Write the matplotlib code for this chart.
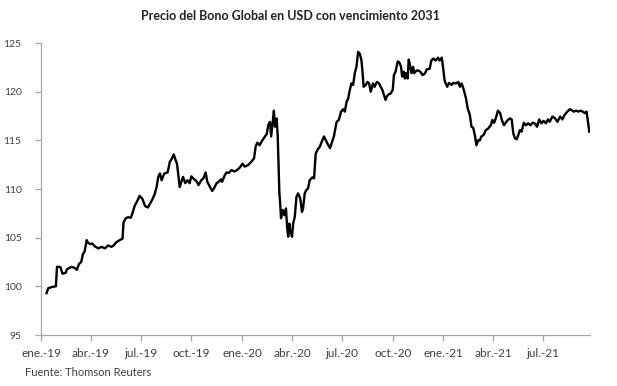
import pandas as pd
import matplotlib
matplotlib.use("Agg")
import matplotlib.pyplot as plt
import matplotlib.dates as mdates

# precio del bono (lectura aproximada del gráfico)
fechas = [
    "2019-01-11", "2019-01-14", "2019-01-22", "2019-01-28", "2019-01-30", "2019-02-05", "2019-02-09",
    "2019-02-15", "2019-02-17", "2019-02-25", "2019-03-03", "2019-03-07", "2019-03-11", "2019-03-15",
    "2019-03-18", "2019-03-21", "2019-03-25", "2019-03-27", "2019-03-31", "2019-04-04", "2019-04-09",
    "2019-04-15", "2019-04-21", "2019-04-27", "2019-05-03", "2019-05-09", "2019-05-13", "2019-05-17",
    "2019-05-24", "2019-05-29", "2019-05-31", "2019-06-04", "2019-06-08", "2019-06-13", "2019-06-16",
    "2019-06-20", "2019-06-26", "2019-06-29", "2019-07-04", "2019-07-09", "2019-07-14", "2019-07-18",
    "2019-07-22", "2019-07-26", "2019-07-30", "2019-08-02", "2019-08-05", "2019-08-08", "2019-08-13",
    "2019-08-19", "2019-08-23", "2019-08-26", "2019-08-30", "2019-09-02", "2019-09-05", "2019-09-07",
    "2019-09-10", "2019-09-13", "2019-09-16", "2019-09-20", "2019-09-24", "2019-09-28", "2019-10-01",
    "2019-10-06", "2019-10-10", "2019-10-14", "2019-10-19", "2019-10-23", "2019-10-27", "2019-10-30",
    "2019-11-04", "2019-11-08", "2019-11-11", "2019-11-16", "2019-11-20", "2019-11-24", "2019-11-26",
    "2019-12-01", "2019-12-04", "2019-12-08", "2019-12-13", "2019-12-18", "2019-12-22", "2019-12-28",
    "2020-01-02", "2020-01-06", "2020-01-12", "2020-01-18", "2020-01-23", "2020-01-26", "2020-01-29",
    "2020-02-02", "2020-02-07", "2020-02-12", "2020-02-15", "2020-02-18", "2020-02-21", "2020-02-23",
    "2020-02-26", "2020-02-28", "2020-03-01", "2020-03-04", "2020-03-06", "2020-03-09", "2020-03-10",
    "2020-03-12", "2020-03-15", "2020-03-18", "2020-03-21", "2020-03-23", "2020-03-25", "2020-03-27",
    "2020-03-29", "2020-04-01", "2020-04-03", "2020-04-06", "2020-04-09", "2020-04-12", "2020-04-14",
    "2020-04-16", "2020-04-19", "2020-04-21", "2020-04-24", "2020-04-27", "2020-04-30", "2020-05-03",
    "2020-05-08", "2020-05-11", "2020-05-14", "2020-05-18", "2020-05-21", "2020-05-25", "2020-05-29",
    "2020-06-01", "2020-06-05", "2020-06-09", "2020-06-12", "2020-06-16", "2020-06-21", "2020-06-25",
    "2020-06-29", "2020-07-03", "2020-07-06", "2020-07-09", "2020-07-12", "2020-07-15", "2020-07-18",
    "2020-07-21", "2020-07-24", "2020-07-27", "2020-07-30", "2020-08-02", "2020-08-05", "2020-08-07",
    "2020-08-09", "2020-08-13", "2020-08-16", "2020-08-19", "2020-08-22", "2020-08-26", "2020-08-29",
    "2020-09-02", "2020-09-06", "2020-09-09", "2020-09-12", "2020-09-15", "2020-09-18", "2020-09-20",
    "2020-09-24", "2020-09-27", "2020-10-01", "2020-10-03", "2020-10-06", "2020-10-10", "2020-10-13",
    "2020-10-16", "2020-10-18", "2020-10-21", "2020-10-23", "2020-10-25", "2020-10-28", "2020-10-30",
    "2020-11-02", "2020-11-04", "2020-11-07", "2020-11-09", "2020-11-11", "2020-11-15", "2020-11-19",
    "2020-11-22", "2020-11-24", "2020-11-28", "2020-12-02", "2020-12-07", "2020-12-10", "2020-12-14",
    "2020-12-18", "2020-12-22", "2020-12-25", "2020-12-29", "2021-01-01", "2021-01-03", "2021-01-05",
    "2021-01-08", "2021-01-11", "2021-01-16", "2021-01-19", "2021-01-24", "2021-01-28", "2021-01-31",
    "2021-02-03", "2021-02-07", "2021-02-11", "2021-02-14", "2021-02-18", "2021-02-21", "2021-02-24",
    "2021-02-27", "2021-03-02", "2021-03-05", "2021-03-08", "2021-03-11", "2021-03-15", "2021-03-19",
    "2021-03-23", "2021-03-28", "2021-03-31", "2021-04-03", "2021-04-06", "2021-04-10", "2021-04-14",
    "2021-04-17", "2021-04-21", "2021-04-24", "2021-04-28", "2021-05-02", "2021-05-05", "2021-05-08",
    "2021-05-11", "2021-05-14", "2021-05-17", "2021-05-20", "2021-05-23", "2021-05-27", "2021-05-31",
    "2021-06-04", "2021-06-08", "2021-06-12", "2021-06-16", "2021-06-20", "2021-06-24", "2021-06-28",
    "2021-07-02", "2021-07-06", "2021-07-10", "2021-07-13", "2021-07-18", "2021-07-23", "2021-07-27",
    "2021-08-01", "2021-08-05", "2021-08-09", "2021-08-14", "2021-08-19", "2021-08-22", "2021-08-26",
    "2021-08-30", "2021-09-03", "2021-09-07", "2021-09-11", "2021-09-15", "2021-09-18", "2021-09-20",
    "2021-09-23",
]
precios = [
    99.3, 99.8, 99.95, 100.0, 102.0, 102.0, 101.3,
    101.4, 101.75, 102.0, 101.9, 101.7, 102.3, 102.5,
    103.3, 103.55, 104.75, 104.5, 104.35, 104.4, 104.1,
    103.9, 104.06, 103.9, 104.2, 104.06, 104.2, 104.5,
    104.75, 104.9, 106.6, 107.0, 107.1, 107.05, 107.5,
    108.25, 108.9, 109.3, 109.0, 108.25, 108.1, 108.5,
    108.9, 109.4, 110.2, 111.25, 111.6, 110.9, 111.6,
    111.7, 112.8, 113.05, 113.55, 113.05, 112.6, 111.6,
    110.2, 110.75, 111.25, 110.6, 110.9, 110.6, 111.3,
    111.0, 110.85, 110.4, 110.9, 111.1, 111.7, 110.75,
    110.2, 109.8, 110.05, 110.6, 110.75, 111.0, 110.75,
    111.45, 111.7, 111.65, 111.95, 111.8, 111.9, 112.2,
    112.6, 112.3, 112.45, 112.8, 113.15, 114.4, 114.75,
    114.5, 115.0, 115.4, 115.65, 116.6, 116.9, 115.4,
    116.9, 118.05, 116.4, 117.25, 115.4, 109.55, 108.9,
    107.0, 107.85, 107.3, 108.0, 106.1, 105.1, 106.45,
    105.6, 105.1, 106.45, 107.15, 109.2, 109.55, 109.3,
    109.0, 107.65, 108.0, 109.55, 109.9, 110.05, 110.9,
    111.2, 111.1, 113.65, 114.1, 114.3, 114.85, 115.4,
    115.05, 114.6, 114.2, 114.7, 115.4, 116.9, 117.1,
    117.95, 118.2, 117.95, 118.95, 119.3, 120.2, 120.85,
    120.7, 121.9, 122.55, 124.1, 123.9, 123.25, 122.05,
    120.5, 120.7, 121.0, 120.85, 120.0, 120.85, 120.5,
    121.0, 120.85, 120.5, 120.2, 119.65, 119.15, 119.5,
    119.75, 119.8, 120.2, 121.7, 122.05, 123.1, 123.0,
    122.55, 121.55, 122.05, 121.35, 121.9, 121.35, 123.3,
    122.55, 121.9, 122.55, 121.9, 122.05, 122.2, 122.1,
    121.9, 121.7, 121.85, 122.3, 122.35, 123.2, 123.4,
    123.2, 123.5, 123.2, 123.5, 122.2, 121.2, 120.85,
    120.5, 120.9, 120.7, 120.9, 120.85, 121.0, 120.5,
    120.85, 120.2, 119.3, 118.3, 117.6, 116.4, 116.3,
    115.55, 114.5, 115.0, 115.0, 115.4, 115.55, 116.05,
    116.2, 116.55, 117.1, 116.8, 117.25, 118.05, 117.8,
    117.1, 116.55, 116.8, 117.1, 117.25, 117.15, 115.7,
    115.2, 115.1, 115.55, 116.05, 115.9, 116.8, 116.55,
    116.75, 116.55, 116.8, 116.75, 116.4, 117.15, 116.75,
    117.0, 116.75, 117.15, 116.9, 117.45, 117.25, 116.9,
    117.45, 117.15, 117.6, 117.95, 118.2, 118.1, 117.95,
    118.05, 117.95, 118.05, 117.95, 117.8, 117.95, 117.1,
    115.9,
]

titulo = "Precio del Bono Global en USD con vencimiento 2031"
fuente = "Fuente: Thomson Reuters"
meses = {1: "ene.", 4: "abr.", 7: "jul.", 10: "oct."}

plt.rcParams['font.family'] = ['Lato', 'DejaVu Sans']
gris = '#404040'

fig = plt.figure(figsize=(6.17, 3.86), dpi=100)
ax = fig.add_axes([0.0665, 0.1321, 0.8895, 0.7565])

ax.plot(pd.to_datetime(fechas), precios, color='black', lw=1.7)

ax.set_ylim(95, 125)
ax.set_yticks(range(95, 126, 5))
ax.set_xlim(pd.Timestamp("2019-01-01"), pd.Timestamp("2021-09-24"))
ax.xaxis.set_major_locator(mdates.MonthLocator(bymonth=[1, 4, 7, 10]))
ax.xaxis.set_major_formatter(plt.FuncFormatter(
    lambda x, pos: f"{meses[mdates.num2date(x).month]}-{mdates.num2date(x).strftime('%y')}"))

for lado in ['top', 'right']:
    ax.spines[lado].set_visible(False)
for lado in ['left', 'bottom']:
    ax.spines[lado].set_color('#a6a6a6')
    ax.spines[lado].set_linewidth(0.9)
ax.tick_params(axis='both', colors='#a6a6a6', length=4, width=0.9, direction='out')
ax.tick_params(axis='y', labelcolor=gris, labelsize=7.5, pad=10)
ax.tick_params(axis='x', labelcolor=gris, labelsize=8.5, pad=5)

fig.text(0.47, 0.958, titulo, ha='center', va='center', fontsize=9, fontweight='bold', color='#222222')
fig.text(0.04, 0.036, fuente, ha='left', va='center', fontsize=8, color=gris)

fig.savefig('out.png', dpi=100)
